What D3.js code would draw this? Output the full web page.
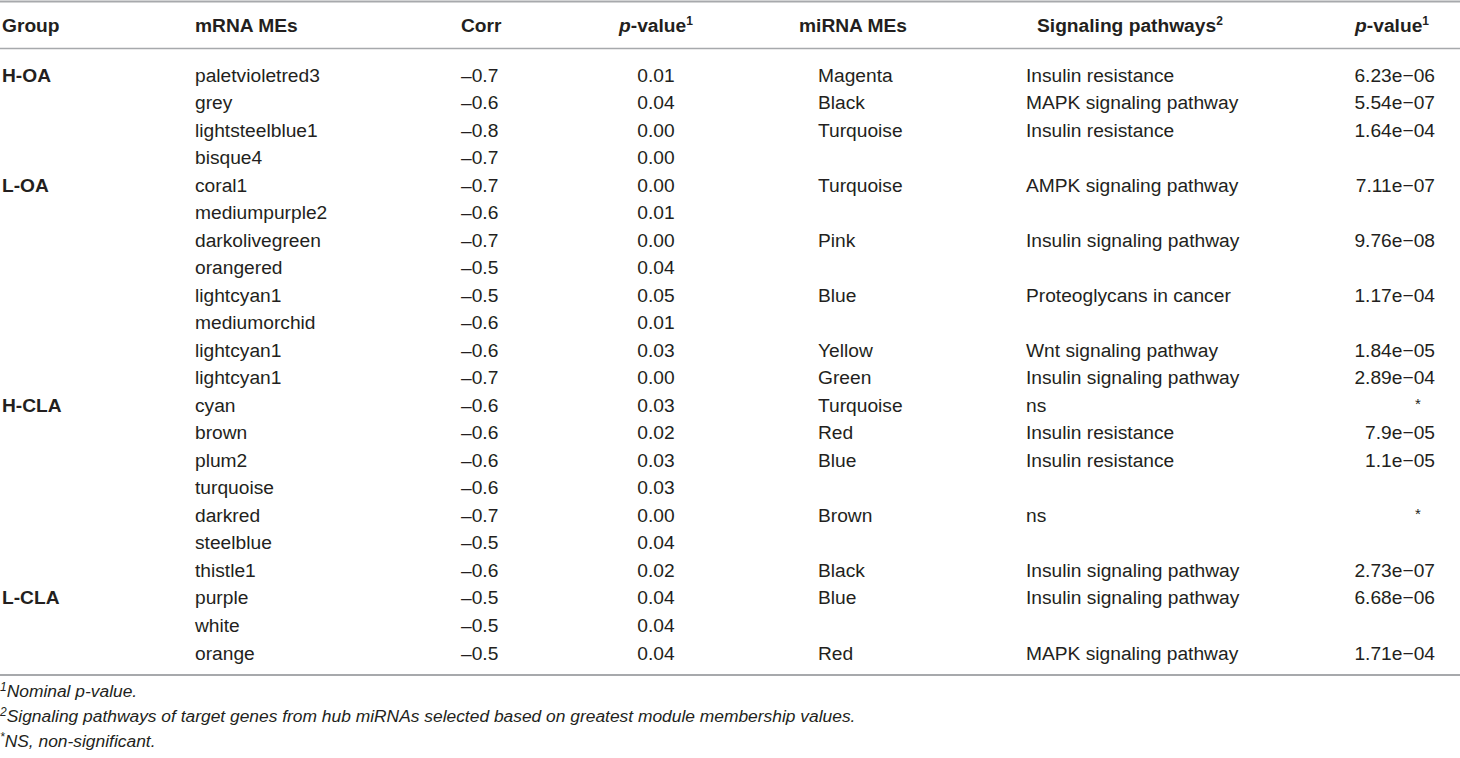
<!DOCTYPE html>
<html><head><meta charset="utf-8">
<script src="https://cdn.jsdelivr.net/npm/d3@7/dist/d3.min.js"></script>
<style>
html,body{margin:0;padding:0;background:#fff;}
svg{display:block;font-family:"Liberation Sans",Arial,Helvetica,sans-serif;}
</style></head>
<body>
<svg id="chart" width="1460" height="758"></svg>
<script>
// ---- data ----
const groups = ["H-OA","","","","L-OA","","","","","","","","H-CLA","","","","","","","L-CLA","",""];
const mrnaMEs = ["paletvioletred3","grey","lightsteelblue1","bisque4","coral1","mediumpurple2","darkolivegreen","orangered","lightcyan1","mediumorchid","lightcyan1","lightcyan1","cyan","brown","plum2","turquoise","darkred","steelblue","thistle1","purple","white","orange"];
const corr = [-0.7,-0.6,-0.8,-0.7,-0.7,-0.6,-0.7,-0.5,-0.5,-0.6,-0.6,-0.7,-0.6,-0.6,-0.6,-0.6,-0.7,-0.5,-0.6,-0.5,-0.5,-0.5];
const pValues = [0.01,0.04,0.00,0.00,0.00,0.01,0.00,0.04,0.05,0.01,0.03,0.00,0.03,0.02,0.03,0.03,0.00,0.04,0.02,0.04,0.04,0.04];
const mirnaMEs = ["Magenta","Black","Turquoise","","Turquoise","","Pink","","Blue","","Yellow","Green","Turquoise","Red","Blue","","Brown","","Black","Blue","","Red"];
const pathways = ["Insulin resistance","MAPK signaling pathway","Insulin resistance","","AMPK signaling pathway","","Insulin signaling pathway","","Proteoglycans in cancer","","Wnt signaling pathway","Insulin signaling pathway","ns","Insulin resistance","Insulin resistance","","ns","","Insulin signaling pathway","Insulin signaling pathway","","MAPK signaling pathway"];
const pathwayP = ["6.23e\u221206","5.54e\u221207","1.64e\u221204","","7.11e\u221207","","9.76e\u221208","","1.17e\u221204","","1.84e\u221205","2.89e\u221204","*","7.9e\u221205","1.1e\u221205","","*","","2.73e\u221207","6.68e\u221206","","1.71e\u221204"];
const footnotes = [
  {sup:"1", text:"Nominal p-value."},
  {sup:"2", text:"Signaling pathways of target genes from hub miRNAs selected based on greatest module membership values."},
  {sup:"*", text:"NS, non-significant."}
];

// ---- layout ----
const svg = d3.select("#chart");
const ink = "#231f20";
const rule = "#a7a9ac";
const fs = 19.2;

const y = d3.scaleLinear().domain([0, mrnaMEs.length - 1]).range([81.5, 659.5]);
const x = {group:2, mrna:195, corr:461, pCenter:656, mirnaHead:799, mirna:818, pathHead:1037, path:1026, p2:1435};

// rules
svg.append("line").attr("x1",0).attr("x2",1460).attr("y1",1.5).attr("y2",1.5).attr("stroke",rule).attr("stroke-width",2.2);
svg.append("line").attr("x1",0).attr("x2",1460).attr("y1",48.5).attr("y2",48.5).attr("stroke",rule).attr("stroke-width",1.6);
svg.append("line").attr("x1",0).attr("x2",1460).attr("y1",675).attr("y2",675).attr("stroke",rule).attr("stroke-width",2.2);

// header
const hy = 32;
const head = svg.append("g").attr("font-weight","bold").attr("font-size",fs).attr("fill",ink);
head.append("text").attr("x",x.group).attr("y",hy).text("Group");
head.append("text").attr("x",x.mrna).attr("y",hy).text("mRNA MEs");
head.append("text").attr("x",x.corr).attr("y",hy).text("Corr");
function pHeader(t){
  t.append("tspan").attr("font-style","italic").text("p");
  t.append("tspan").text("-value");
  t.append("tspan").attr("font-size",12).attr("dy",-7).text("1");
}
pHeader(head.append("text").attr("x",x.pCenter).attr("y",hy).attr("text-anchor","middle"));
head.append("text").attr("x",x.mirnaHead).attr("y",hy).text("miRNA MEs");
const sh = head.append("text").attr("x",x.pathHead).attr("y",hy);
sh.append("tspan").text("Signaling pathways");
sh.append("tspan").attr("font-size",12).attr("dy",-7).text("2");
pHeader(head.append("text").attr("x",x.p2 - 6).attr("y",hy).attr("text-anchor","end"));

// body
const body = svg.append("g").attr("font-size",fs).attr("fill",ink);
const idx = d3.range(mrnaMEs.length);
const fmtCorr = v => "\u2013" + d3.format(".1f")(Math.abs(v));
const fmtP = d3.format(".2f");

body.selectAll("text.g").data(idx).join("text").attr("class","g")
  .attr("x",x.group).attr("y",i=>y(i)).attr("font-weight","bold").text(i=>groups[i]);
body.selectAll("text.m").data(idx).join("text").attr("class","m")
  .attr("x",x.mrna).attr("y",i=>y(i)).text(i=>mrnaMEs[i]);
body.selectAll("text.c").data(idx).join("text").attr("class","c")
  .attr("x",x.corr).attr("y",i=>y(i)).text(i=>fmtCorr(corr[i]));
body.selectAll("text.p").data(idx).join("text").attr("class","p")
  .attr("x",x.pCenter).attr("y",i=>y(i)).attr("text-anchor","middle").text(i=>fmtP(pValues[i]));
body.selectAll("text.mi").data(idx).join("text").attr("class","mi")
  .attr("x",x.mirna).attr("y",i=>y(i)).text(i=>mirnaMEs[i]);
body.selectAll("text.pw").data(idx).join("text").attr("class","pw")
  .attr("x",x.path).attr("y",i=>y(i)).text(i=>pathways[i]);
body.selectAll("text.p2").data(idx.filter(i=>pathwayP[i] && pathwayP[i] !== "*")).join("text").attr("class","p2")
  .attr("x",x.p2).attr("y",i=>y(i)).attr("text-anchor","end").text(i=>pathwayP[i]);
body.selectAll("text.star").data(idx.filter(i=>pathwayP[i] === "*")).join("text").attr("class","star")
  .attr("x",1418).attr("y",i=>y(i)-3).attr("text-anchor","middle").attr("font-size",15).text("*");

// footnotes
const fy = d3.scaleLinear().domain([0,2]).range([697,747]);
const fn = svg.append("g").attr("font-size",17.4).attr("font-style","italic").attr("fill",ink);
fn.selectAll("text").data(footnotes).join("text")
  .attr("x",0).attr("y",(d,i)=>fy(i))
  .each(function(d){
    const t = d3.select(this);
    t.append("tspan").attr("font-size",12).attr("dy",-6).text(d.sup);
    t.append("tspan").attr("dy",6).text(d.text);
  });
</script>
</body></html>
